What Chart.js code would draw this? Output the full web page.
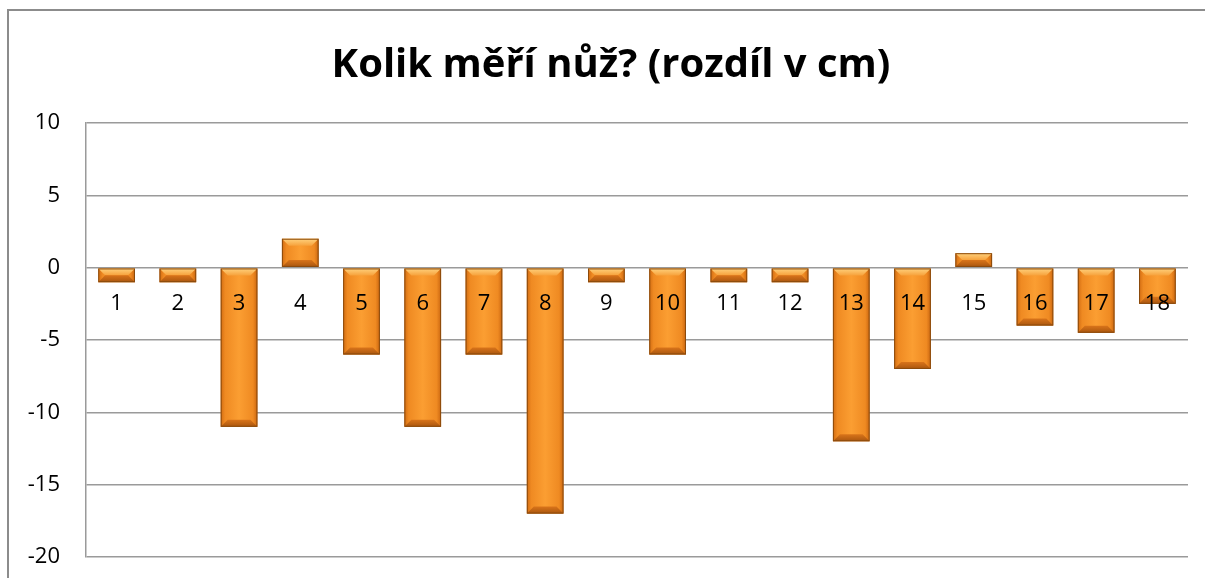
<!DOCTYPE html>
<html lang="cs">
<head>
    <meta charset="UTF-8">
    <title>Kolik měří nůž?</title>
    <style>
        html, body {
            margin: 0;
            padding: 0;
            background: #fff;
            overflow: hidden;
        }

        #wrap {
            position: relative;
            width: 1205px;
            height: 578px;
        }

        /* ramecek grafu (pravy a spodni okraj je mimo obraz) */
        #frame {
            position: absolute;
            left: 7px;
            top: 9px;
            width: 1300px;
            height: 700px;
            border-left: 2px solid #8c8c8c;
            border-top: 2px solid #8c8c8c;
            pointer-events: none;
        }
    </style>
</head>
<body>
    <div id="wrap">
        <canvas id="chart" width="1205" height="578"></canvas>
        <div id="frame"></div>
    </div>

    <script src="https://cdn.jsdelivr.net/npm/chart.js"></script>
    <script>
        // data
        const labels = ['1', '2', '3', '4', '5', '6', '7', '8', '9', '10', '11', '12', '13', '14', '15', '16', '17', '18'];
        const rozdil = [-1, -1, -11, 2, -6, -11, -6, -17, -1, -6, -1, -1, -12, -7, 1, -4, -4.5, -2.5];
        const yTicks = [10, 5, 0, -5, -10, -15, -20];

        const barPct = 0.6;

        // vodorovny prechod pres sloupec
        function barFill(ctx) {
            const chart = ctx.chart;
            const x = chart.scales.x;
            if (!chart.chartArea || !x) return '#f08c20';
            const cx = x.getPixelForValue(ctx.dataIndex);
            const w = x.width / labels.length * barPct;
            const g = chart.ctx.createLinearGradient(cx - w / 2, 0, cx + w / 2, 0);
            g.addColorStop(0, '#d26c12');
            g.addColorStop(0.12, '#ef8a22');
            g.addColorStop(0.5, '#fb9e32');
            g.addColorStop(0.88, '#ef8a22');
            g.addColorStop(1, '#ca6610');
            return g;
        }

        // zkosene hrany nahore a dole
        const bevel = {
            id: 'bevel',
            afterDatasetsDraw(chart) {
                const c = chart.ctx;
                chart.getDatasetMeta(0).data.forEach(el => {
                    const half = el.width / 2;
                    const l = el.x - half, r = el.x + half;
                    const top = Math.min(el.y, el.base);
                    const bot = Math.max(el.y, el.base);
                    const b = Math.min(7, (bot - top) / 2);

                    c.save();
                    let g = c.createLinearGradient(0, top, 0, top + b);
                    g.addColorStop(0, '#ffd27e');
                    g.addColorStop(1, '#f7a23c');
                    c.fillStyle = g;
                    c.beginPath();
                    c.moveTo(l, top);
                    c.lineTo(r, top);
                    c.lineTo(r - b, top + b);
                    c.lineTo(l + b, top + b);
                    c.closePath();
                    c.fill();

                    g = c.createLinearGradient(0, bot - b, 0, bot);
                    g.addColorStop(0, '#d9741a');
                    g.addColorStop(1, '#a9560f');
                    c.fillStyle = g;
                    c.beginPath();
                    c.moveTo(l, bot);
                    c.lineTo(r, bot);
                    c.lineTo(r - b, bot - b);
                    c.lineTo(l + b, bot - b);
                    c.closePath();
                    c.fill();

                    c.strokeStyle = '#8a4a0c';
                    c.lineWidth = 1;
                    c.strokeRect(l + 0.5, top + 0.5, el.width - 1, bot - top - 1);
                    c.restore();
                });
            }
        };

        // nadpis je vystredeny na celou sirku obrazku, ne jen na plochu grafu
        const titleShift = {
            id: 'titleShift',
            afterLayout(chart) {
                const t = chart.titleBlock;
                if (t) t.left = 2 * 611 - t.right;
            }
        };

        const fontName = "'Open Sans', 'Noto Sans', sans-serif";

        new Chart(document.getElementById('chart'), {
            type: 'bar',
            data: {
                labels: labels,
                datasets: [{
                    data: rozdil,
                    backgroundColor: barFill,
                    borderWidth: 0,
                    barPercentage: barPct,
                    categoryPercentage: 1
                }]
            },
            options: {
                responsive: false,
                animation: false,
                events: [],
                layout: { padding: { left: 0, right: 17, top: 0, bottom: 21 } },
                plugins: {
                    legend: { display: false },
                    tooltip: { enabled: false },
                    title: {
                        display: true,
                        text: 'Kolik měří nůž? (rozdíl v cm)',
                        color: '#000',
                        font: { family: fontName, size: 40, weight: 'bold', lineHeight: 1.2 },
                        padding: { top: 42, bottom: 33 }
                    }
                },
                scales: {
                    x: {
                        position: { y: 0 },
                        grid: { display: false, drawTicks: false },
                        border: { display: false },
                        ticks: {
                            z: 1,
                            color: '#000',
                            padding: 23,
                            maxRotation: 0,
                            font: { family: fontName, size: 22 }
                        }
                    },
                    y: {
                        min: -20,
                        max: 10,
                        afterFit: s => {
                            s.width = 86;
                            // tick padding would otherwise push the plot bottom up
                            s.paddingTop = 12;
                            s.paddingBottom = 12;
                        },
                        afterBuildTicks: s => { s.ticks = yTicks.map(v => ({ value: v })); },
                        grid: { color: '#9a9a9a', lineWidth: 1.5, drawTicks: false },
                        border: { color: '#9a9a9a', width: 1.5 },
                        ticks: {
                            color: '#000',
                            padding: 26,
                            font: { family: fontName, size: 22 }
                        }
                    }
                }
            },
            plugins: [bevel, titleShift]
        });
    </script>
</body>
</html>
